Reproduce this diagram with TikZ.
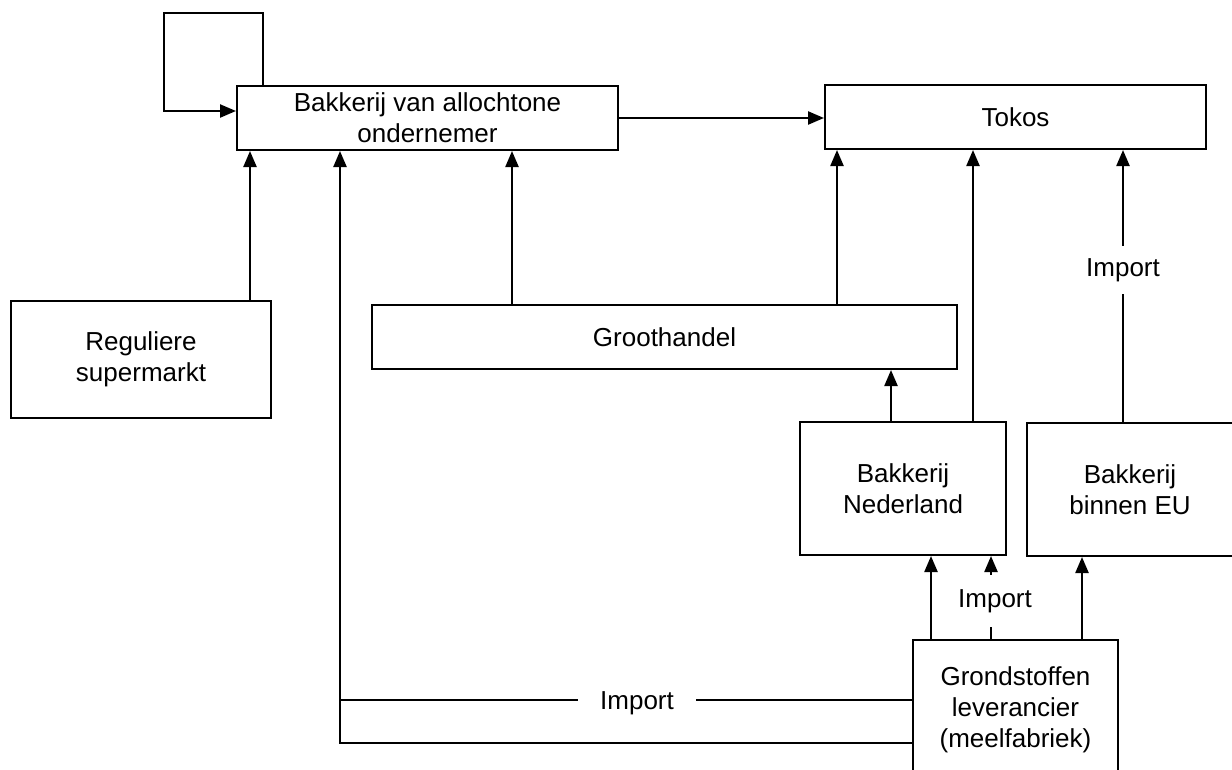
\documentclass[tikz,border=0pt]{standalone}
\usepackage{fontspec}
\setmainfont{Liberation Sans}
\usetikzlibrary{arrows.meta}

\begin{document}
\begin{tikzpicture}[x=1pt,y=-1pt,
  box/.style={draw, line width=2pt, inner sep=0pt, align=center,
              font=\fontsize{26}{31}\selectfont},
  conn/.style={line width=2.3pt},
  arr/.style={conn, -{Triangle[width=13pt,length=16pt]}},
  lbl/.style={fill=white, inner xsep=22pt, inner ysep=12pt,
              font=\fontsize{26}{31}\selectfont}]
\useasboundingbox (0,0) rectangle (1232,769);

% boxes
\node[box, minimum width=381pt, minimum height=64pt] (alloch) at (427.5,118)
  {Bakkerij van allochtone\\ondernemer};
\node[box, minimum width=381pt, minimum height=64pt] (tokos) at (1015.5,117) {Tokos};
\node[box, minimum width=260pt, minimum height=117pt] (super) at (141,359.5)
  {Reguliere\\supermarkt};
\node[box, minimum width=585pt, minimum height=64pt] (groot) at (664.5,337) {Groothandel};
\node[box, minimum width=206pt, minimum height=133pt] (nl) at (903,488.5)
  {Bakkerij\\Nederland};
\node[box, minimum width=206pt, minimum height=133pt] (eu) at (1130,489.5)
  {Bakkerij\\binnen EU};
\node[box, minimum width=205pt, minimum height=140pt] (grond) at (1015.5,710)
  {Grondstoffen\\leverancier\\(meelfabriek)};

% own loop of the bakery
\draw[arr] (263,0 |- alloch.north) -- (263,13) -- (164,13) -- (164,111)
  -- (alloch.west |- 0,111);

% bakery to tokos
\draw[arr] (alloch.east) -- (alloch.east -| tokos.west);

% supermarket and wholesale to the bakery
\draw[arr] (250,0 |- super.north) -- (250,0 |- alloch.south);
\draw[arr] (512,0 |- groot.north) -- (512,0 |- alloch.south);

% wholesale to tokos
\draw[arr] (837,0 |- groot.north) -- (837,0 |- tokos.south);

% Dutch bakery to wholesale and tokos
\draw[arr] (891,0 |- nl.north) -- (891,0 |- groot.south);
\draw[arr] (973,0 |- nl.north) -- (973,0 |- tokos.south);

% EU bakery to tokos (import)
\draw[arr] (1123,0 |- eu.north) -- (1123,0 |- tokos.south);
\node[lbl] (imp1) at (1123,270) {Import};

% raw materials supplier to the bakeries
\draw[arr] (931,0 |- grond.north) -- (931,0 |- nl.south);
\draw[arr] (991,0 |- grond.north) -- (991,0 |- nl.south);
\node[lbl, inner xsep=4pt, inner ysep=14pt] (imp2) at (995,601) {Import};
\draw[arr] (1082,0 |- grond.north) -- (1082,0 |- eu.south);

% raw materials supplier to the allochtone bakery
\draw[conn] (grond.west |- 0,700) -- (340,700);
\draw[arr] (grond.west |- 0,743) -- (340,743) -- (340,0 |- alloch.south);
\node[lbl] (imp3) at (637,703) {Import};
\end{tikzpicture}
\end{document}
